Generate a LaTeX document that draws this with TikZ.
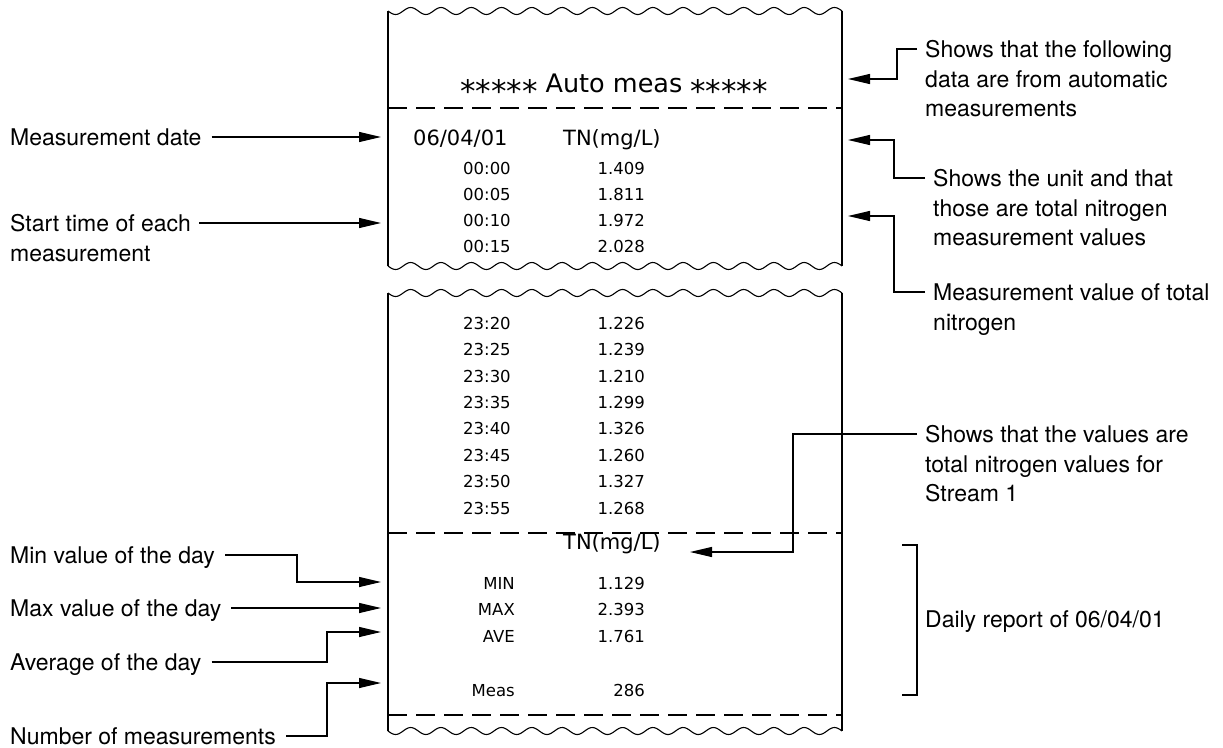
\documentclass[tikz,border=0pt]{standalone}
\usepackage{fontspec}
\setmainfont{TeX Gyre Heros}
\newfontfamily\rcptfont{DejaVu Sans}
\usetikzlibrary{arrows.meta,calc}
\newcommand{\labfont}{\fontsize{23}{29.5}\selectfont}
\newcommand{\starrun}{{\fontsize{31}{30}\selectfont\raisebox{-10pt}{*****}}}
\tikzset{
  edge/.style={line width=2pt},
  cut/.style={line width=1.1pt},
  perf/.style={line width=2pt,dash pattern=on 19pt off 9pt},
  lab/.style={font=\labfont,inner sep=0pt,align=left,anchor=north west},
  hdr/.style={font=\rcptfont\fontsize{25.5}{30}\selectfont,inner sep=0pt,anchor=base},
  big/.style={font=\rcptfont\fontsize{21}{25}\selectfont,inner sep=0pt,anchor=base west},
  cell/.style={font=\rcptfont\fontsize{16.5}{20}\selectfont,inner sep=0pt},
  arr/.style={-{Triangle[length=22pt,width=10pt]},line width=1.2pt},
  brk/.style={line width=1.2pt},
}
% torn edge of the paper at height #1
\newcommand{\tear}[1]{\draw[cut] plot[domain=0:454,samples=300] ({388+\x},{#1+3.5*sin(\x*11.893)});}
% printed row: name, y, time, value
\newcommand{\prow}[4]{%
  \node[cell,anchor=base west] (t#1) at (463,#2+6) {#3};
  \node[cell,anchor=base east] (v#1) at (645,#2+6) {#4};}
% summary row: name, y, key, value
\newcommand{\srow}[4]{%
  \node[cell,anchor=base east] (k#1) at (515,#2+6) {#3};
  \node[cell,anchor=base east] (s#1) at (645,#2+6) {#4};}

\begin{document}
\begin{tikzpicture}[x=1pt,y=-1pt]
\useasboundingbox (0,0) rectangle (1223,747);
% paper, upper piece
\tear{11}
\draw[edge] (388,11) -- (388,266);
\draw[edge] (842,11) -- (842,266);
\tear{266}
\draw[perf] (388,108) -- (842,108);
% paper, lower piece
\tear{293}
\draw[edge] (388,293) -- (388,731);
\draw[edge] (842,293) -- (842,731);
\tear{731}
\draw[perf] (388,533) -- (842,533);
\draw[perf] (388,715) -- (842,715);

\node[hdr] (title) at (614,92) {\starrun\ Auto meas \starrun};
\node[big] (date) at (413,145.7) {06/04/01};
\node[big] (unit) at (563,145.7) {TN(mg/L)};
\prow{a}{168}{00:00}{1.409}
\prow{b}{194}{00:05}{1.811}
\prow{c}{220}{00:10}{1.972}
\prow{d}{246}{00:15}{2.028}
\prow{e}{323}{23:20}{1.226}
\prow{f}{349}{23:25}{1.239}
\prow{g}{376}{23:30}{1.210}
\prow{h}{402}{23:35}{1.299}
\prow{i}{428}{23:40}{1.326}
\prow{j}{455}{23:45}{1.260}
\prow{k}{481}{23:50}{1.327}
\prow{l}{508}{23:55}{1.268}
\node[big] (unit2) at (563,549.7) {TN(mg/L)};
\srow{min}{583}{MIN}{1.129}
\srow{max}{609}{MAX}{2.393}
\srow{ave}{636}{AVE}{1.761}
\srow{num}{690}{Meas}{286}

% left notes
\node[lab] (lDate) at (10,128.5) {Measurement date};
\node[lab] (lStart) at (10,214.5) {Start time of each\\measurement};
\node[lab] (lMin) at (10,546.5) {Min value of the day};
\node[lab] (lMax) at (10,599.5) {Max value of the day};
\node[lab] (lAve) at (10,653.5) {Average of the day};
\node[lab] (lNum) at (10,727.5) {Number of measurements};
\coordinate (tDate) at (381,137);
\coordinate (tStart) at (381,223);
\coordinate (tMin) at (381,582);
\coordinate (tMax) at (381,608);
\coordinate (tAve) at (381,632);
\coordinate (tNum) at (381,683);
\coordinate (jMin) at (297,582);
\coordinate (jAve) at (327,632);
\coordinate (jNum) at (327,683);
\draw[arr] ([xshift=10pt,yshift=-8.5pt]lDate.north east) -- (tDate);
\draw[arr] ([xshift=8pt,yshift=-8.5pt]lStart.north east) -- (tStart);
\draw[arr] ([xshift=10pt,yshift=-8.5pt]lMin.north east) -| (jMin) -- (tMin);
\draw[arr] ([xshift=10pt,yshift=-8.5pt]lMax.north east) -- (tMax);
\draw[arr] ([xshift=10pt,yshift=-8.5pt]lAve.north east) -| (jAve) -- (tAve);
\draw[arr] ([xshift=10pt,yshift=-8.5pt]lNum.north east) -| (jNum) -- (tNum);

% right notes
\node[lab] (rAuto) at (925,40.5) {Shows that the following\\data are from automatic\\measurements};
\node[lab] (rUnit) at (933,169.5) {Shows the unit and that\\those are total nitrogen\\measurement values};
\node[lab] (rVal) at (933,283.5) {Measurement value of total\\nitrogen};
\node[lab] (rStream) at (925,425.5) {Shows that the values are\\total nitrogen values for\\Stream 1};
\node[lab] (rDaily) at (925,610.5) {Daily report of 06/04/01};
\coordinate (tAuto) at (848,79);
\coordinate (tUnit) at (848,140);
\coordinate (tVal) at (848,216);
\coordinate (tStream) at (690,552);
\coordinate (jAuto) at (897,79);
\coordinate (jUnit) at (894,140);
\coordinate (jVal) at (894,216);
\coordinate (jStream) at (793,552);
\draw[arr] ([xshift=-8pt,yshift=-8.5pt]rAuto.north west) -| (jAuto) -- (tAuto);
\draw[arr] ([xshift=-8pt,yshift=-8.5pt]rUnit.north west) -| (jUnit) -- (tUnit);
\draw[arr] ([xshift=-8pt,yshift=-8.5pt]rVal.north west) -| (jVal) -- (tVal);
\draw[arr] ([xshift=-8pt,yshift=-8.5pt]rStream.north west) -| (jStream) -- (tStream);
\draw[brk] (902,545) -- (917,545) -- (917,695) -- (902,695);
\end{tikzpicture}
\end{document}
